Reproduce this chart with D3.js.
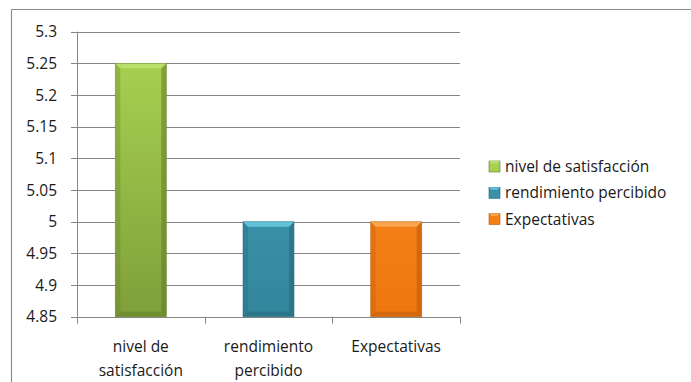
<!DOCTYPE html>
<html><head><meta charset="utf-8">
<script src="https://cdn.jsdelivr.net/npm/d3@7"></script>
<style>body{margin:0;background:#fff;}svg{display:block;font-family:"Open Sans",sans-serif;}</style>
</head><body><svg id="c" width="691" height="382"></svg>
<script>
const categories = ["nivel de satisfacción", "rendimiento percibido", "Expectativas"];
const categoryLines = [["nivel de", "satisfacción"], ["rendimiento", "percibido"], ["Expectativas"]];
const values = [5.25, 5.0, 5.0];
const yTicks = [4.85, 4.9, 4.95, 5, 5.05, 5.1, 5.15, 5.2, 5.25, 5.3];
const colors = [
  {base:"#7f9f3a", top:"#b9de6c", dark:"#5f7c26", light:"#a6d050"},
  {base:"#33869c", top:"#62c2d9", dark:"#246678", light:"#3a90a8"},
  {base:"#ee7611", top:"#f9a550", dark:"#b95a08", light:"#f37f16"}
];

const svg = d3.select("#c");
svg.append("line").attr("x1",11.5).attr("x2",691).attr("y1",9.5).attr("y2",9.5).attr("stroke","#8c8c8c").attr("stroke-width",1.2);
svg.append("line").attr("x1",11.5).attr("x2",11.5).attr("y1",9.5).attr("y2",382).attr("stroke","#8c8c8c").attr("stroke-width",1.2);

const L=77, R=460, T=31.7, B=316.7;
const x = d3.scaleBand().domain(categories).range([L,R]).paddingInner(0.6).paddingOuter(0.3);
const xb = d3.scaleBand().domain(categories).range([L,R]);
const y = d3.scaleLinear().domain([4.85,5.3]).range([B,T]);

svg.append("g").selectAll("line").data(yTicks).join("line")
  .attr("x1",L-6).attr("x2",R).attr("y1",d=>Math.round(y(d))+0.5).attr("y2",d=>Math.round(y(d))+0.5)
  .attr("stroke","#858585").attr("stroke-width",1);
svg.append("line").attr("x1",L+0.5).attr("x2",L+0.5).attr("y1",T).attr("y2",B).attr("stroke","#858585");
svg.append("g").selectAll("text").data(yTicks).join("text")
  .attr("x",57).attr("y",d=>y(d)).attr("dy","0.36em").attr("text-anchor","end")
  .attr("font-size",15.5).attr("fill","#1a1a1a").text(d=>d3.format("")(d));
const bounds = categories.map(c=>xb(c)).concat([R]);
svg.append("g").selectAll("line").data(bounds).join("line")
  .attr("x1",d=>Math.round(d)+0.5).attr("x2",d=>Math.round(d)+0.5).attr("y1",B).attr("y2",B+7).attr("stroke","#858585");

const defs = svg.append("defs");
colors.forEach((c,i)=>{
  const g = defs.append("linearGradient").attr("id","g"+i).attr("x1",0).attr("x2",0).attr("y1",0).attr("y2",1);
  g.append("stop").attr("offset",0).attr("stop-color",c.light);
  g.append("stop").attr("offset",1).attr("stop-color",c.base);
});

const bars = svg.append("g").selectAll("g").data(categories).join("g");
bars.each(function(cat,i){
  const g = d3.select(this);
  const x0 = x(cat), w = x.bandwidth(), y0 = y(values[i]), h = B - y0, c = colors[i], bv = 5;
  g.append("rect").attr("x",x0).attr("y",y0).attr("width",w).attr("height",h).attr("fill","url(#g"+i+")");
  g.append("polygon").attr("points",[[x0,y0],[x0+bv,y0+bv],[x0+bv,B-bv],[x0,B]].join(" ")).attr("fill",c.dark).attr("opacity",0.3);
  g.append("polygon").attr("points",[[x0+w,y0],[x0+w-bv,y0+bv],[x0+w-bv,B-bv],[x0+w,B]].join(" ")).attr("fill",c.dark).attr("opacity",0.55);
  g.append("polygon").attr("points",[[x0,B],[x0+bv,B-bv],[x0+w-bv,B-bv],[x0+w,B]].join(" ")).attr("fill",c.dark).attr("opacity",0.5);
  g.append("polygon").attr("points",[[x0,y0],[x0+w,y0],[x0+w-bv,y0+bv],[x0+bv,y0+bv]].join(" ")).attr("fill",c.top);
  g.append("rect").attr("x",x0).attr("y",y0).attr("width",w).attr("height",h).attr("fill","none").attr("stroke",c.dark).attr("stroke-opacity",0.5).attr("stroke-width",0.8);
});

const lab = svg.append("g").selectAll("text").data(categories).join("text")
  .attr("text-anchor","middle").attr("font-size",15.5).attr("fill","#1a1a1a")
  .attr("x",d=>xb(d)+xb.bandwidth()/2);
lab.each(function(d,i){
  const t = d3.select(this);
  categoryLines[i].forEach((s,k)=>{
    t.append("tspan").attr("x",xb(d)+xb.bandwidth()/2).attr("y",352+k*24).text(s);
  });
});

const lg = svg.append("g").selectAll("g").data(categories).join("g")
  .attr("transform",(d,i)=>`translate(489,${161+i*26.3})`);
lg.append("rect").attr("width",11).attr("height",11).attr("fill",(d,i)=>colors[i].light).attr("stroke",(d,i)=>colors[i].dark).attr("stroke-width",0.6);
lg.append("polygon").attr("points","0,0 11,0 8.5,2.5 2.5,2.5").attr("fill",(d,i)=>colors[i].top);
lg.append("text").attr("x",16).attr("y",5.5).attr("dy","0.36em").attr("font-size",15.5).attr("fill","#1a1a1a").text(d=>d);
</script></body></html>
